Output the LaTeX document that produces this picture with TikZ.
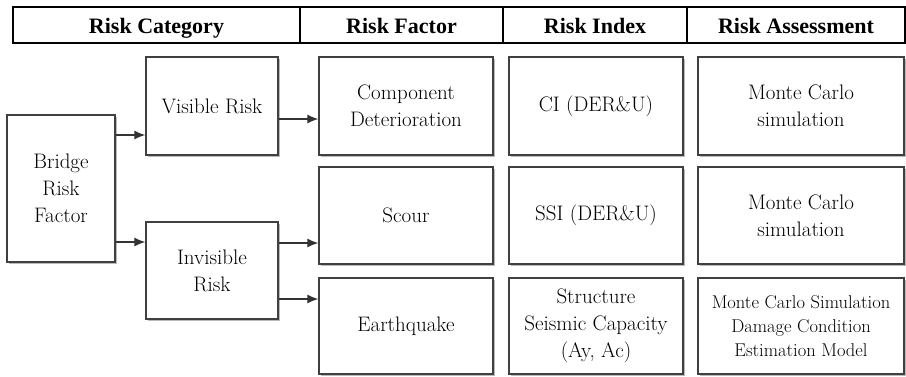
\documentclass[tikz,border=0pt]{standalone}
\usepackage{fontspec}
\newfontfamily\tms{Liberation Serif}
\usetikzlibrary{shadows,arrows.meta}
\tikzset{
  box/.style={draw=black!75, line width=1.3pt, fill=white, align=center, inner sep=0pt,
    font=\rmfamily\fontsize{21}{27}\selectfont,
    drop shadow={shadow xshift=1.5pt, shadow yshift=-1.5pt, fill=black!60, opacity=0.45}},
  hdr/.style={font=\tms\fontsize{22}{26}\selectfont\bfseries, inner sep=0pt, anchor=base},
  arr/.style={line width=1.2pt, draw=black!80, -{Latex[length=11pt,width=9pt]}},
  hline/.style={line width=2pt, draw=black}
}
\begin{document}
\begin{tikzpicture}[x=1pt,y=-1pt]
\useasboundingbox (0,0) rectangle (906,376);
% header
\draw[hline] (13,7) rectangle (905,43);
\coordinate (d1t) at (300,7); \coordinate (d1b) at (300,43);
\coordinate (d2t) at (503,7); \coordinate (d2b) at (503,43);
\coordinate (d3t) at (687,7); \coordinate (d3b) at (687,43);
\draw[hline] (d1t) -- (d1b);
\draw[hline] (d2t) -- (d2b);
\draw[hline] (d3t) -- (d3b);
\node[hdr] (h1) at (156.5,33) {Risk Category};
\node[hdr] (h2) at (401.5,33) {Risk Factor};
\node[hdr] (h3) at (595,33) {Risk Index};
\node[hdr] (h4) at (796,33) {Risk Assessment};
% column 1
\node[box, minimum width=108pt, minimum height=147pt] (br) at (61,188.5) {Bridge\\Risk\\Factor};
\node[box, minimum width=132pt, minimum height=98pt] (vis) at (212,106) {Visible Risk};
\node[box, minimum width=132pt, minimum height=97pt] (inv) at (212,270.5) {Invisible\\Risk};
% column 2
\node[box, minimum width=174pt, minimum height=98pt] (comp) at (406,106) {Component\\Deterioration};
\node[box, minimum width=174pt, minimum height=97pt] (scour) at (406,215.5) {Scour};
\node[box, minimum width=174pt, minimum height=96pt] (eq) at (406,326) {Earthquake};
% column 3
\node[box, minimum width=174pt, minimum height=98pt] (ci) at (596,106) {CI (DER\&U)};
\node[box, minimum width=174pt, minimum height=97pt] (ssi) at (596,215.5) {SSI (DER\&U)};
\node[box, minimum width=174pt, minimum height=96pt] (ssc) at (596,326) {Structure\\Seismic Capacity\\(Ay, Ac)};
% column 4
\node[box, minimum width=206pt, minimum height=98pt] (mc1) at (801,106) {Monte Carlo\\simulation};
\node[box, minimum width=206pt, minimum height=97pt] (mc2) at (801,215.5) {Monte Carlo\\simulation};
\node[box, minimum width=206pt, minimum height=96pt, font=\rmfamily\fontsize{18.5}{24}\selectfont] (mc3) at (801,326) {Monte Carlo Simulation\\Damage Condition\\Estimation Model};
% arrows
\draw[arr] (br.east |- 0,135) -- (vis.west |- 0,135);
\draw[arr] (br.east |- 0,242) -- (inv.west |- 0,242);
\draw[arr] (vis.east |- 0,119) -- (comp.west |- 0,119);
\draw[arr] (inv.east |- 0,243) -- (scour.west |- 0,243);
\draw[arr] (inv.east |- 0,299) -- (eq.west |- 0,299);
\end{tikzpicture}
\end{document}
